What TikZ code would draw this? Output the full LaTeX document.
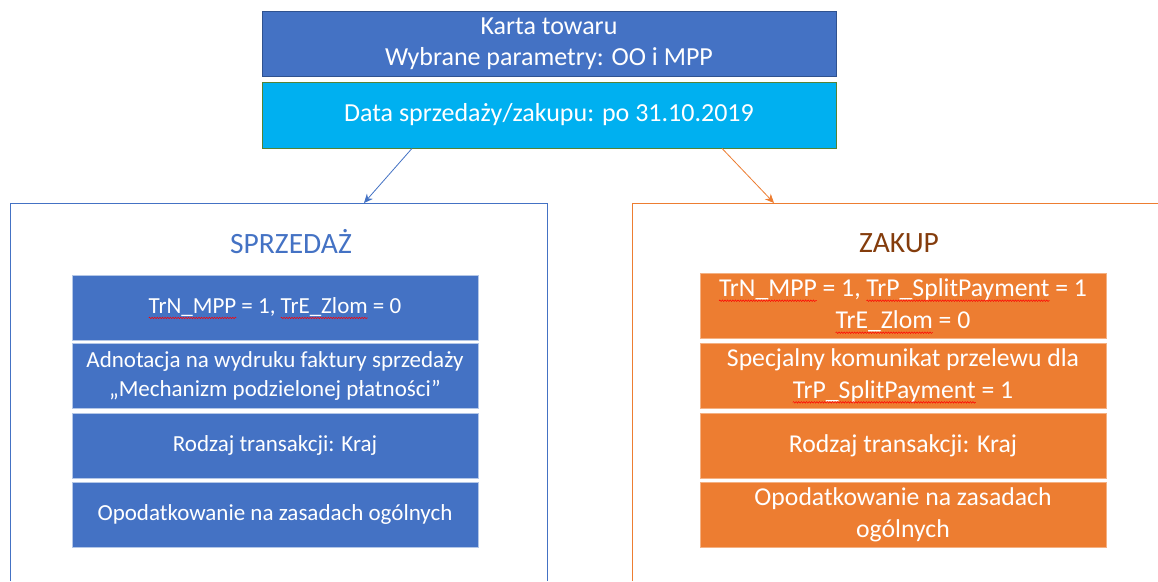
\documentclass[tikz,border=0pt]{standalone}
\usepackage{fontspec}
\setmainfont{Carlito}
\usetikzlibrary{arrows.meta,decorations.pathmorphing}
\definecolor{cblue}{HTML}{4472C4}
\definecolor{cblueD}{HTML}{2F528F}
\definecolor{ccyan}{HTML}{00B0F0}
\definecolor{cgreen}{HTML}{548235}
\definecolor{corange}{HTML}{ED7D31}
\definecolor{corangeL}{HTML}{F4B183}
\definecolor{cbrown}{HTML}{843C0C}
\newsavebox\wbox
\newlength\wlen
\newcommand{\redwave}[1]{\sbox\wbox{#1}\setlength\wlen{\wd\wbox}\usebox\wbox\tikz[overlay,x=1pt,y=1pt,baseline=0pt]\draw[red,line width=0.5pt,decorate,decoration={snake,amplitude=0.8pt,segment length=2.6pt}] (-\wlen,-4) -- (0,-4);}
\tikzset{
  txt/.style={font=\fontsize{23}{29}\selectfont, text=white, align=center, inner sep=0pt},
  toptxt/.style={font=\fontsize{26}{31}\selectfont},
  rtxt/.style={font=\fontsize{25.7}{32}\selectfont},
  topbox/.style={txt, toptxt, rectangle, minimum width=574pt, minimum height=65pt},
  bluebox/.style={txt, rectangle, fill=cblue, draw=cblue!40!white, line width=0.8pt, minimum width=406pt, minimum height=65pt},
  orangebox/.style={txt, rtxt, rectangle, fill=corange, draw=corangeL, line width=0.8pt, minimum width=406pt, minimum height=65pt},
  frameline/.style={line width=0.8pt},
  title/.style={font=\fontsize{29.5}{34}\selectfont, inner sep=0pt},
  arr/.style={line width=0.8pt, -{Stealth[length=9pt,width=8pt]}}
}
\begin{document}
\begin{tikzpicture}[x=1pt,y=-1pt]
\useasboundingbox[fill=white] (0,0) rectangle (1158,581);
% top boxes
\node[topbox, fill=cblue, draw=cblueD, line width=0.8pt] (t1) at (549,43.5) {Karta towaru\\Wybrane parametry: OO i MPP};
\node[topbox, fill=ccyan, draw=cgreen, line width=0.8pt, minimum height=66pt] (t2) at (549,115) {Data sprzedaży/zakupu: po 31.10.2019};
% frames
\draw[frameline, cblue] (10,581) -- (10,203) -- (547,203) -- (547,581);
\draw[frameline, corange] (632,581) -- (632,203) -- (1158,203);
% arrows
\coordinate (la1) at (t2.south -| 412,0);
\coordinate (la2) at (364,203);
\coordinate (ra1) at (t2.south -| 722,0);
\coordinate (ra2) at (774,203);
\draw[arr, cblue] (la1) -- (la2);
\draw[arr, corange] (ra1) -- (ra2);
% titles
\node[title, text=cblue] (st) at (291,242) {SPRZEDAŻ};
\node[title, text=cbrown] (zt) at (899,243) {ZAKUP};
% left boxes
\node[bluebox] (l1) at (275,307.5) {\redwave{TrN\_MPP} = 1, \redwave{TrE\_Zlom} = 0};
\node[bluebox] (l2) at (275,375.5) {Adnotacja na wydruku faktury sprzedaży\\„Mechanizm podzielonej płatności”};
\node[bluebox] (l3) at (275,445.5) {Rodzaj transakcji: Kraj};
\node[bluebox] (l4) at (275,514.5) {Opodatkowanie na zasadach ogólnych};
% right boxes
\node[orangebox] (r1) at (903,305.5) {\redwave{TrN\_MPP} = 1, \redwave{TrP\_SplitPayment} = 1\\\redwave{TrE\_Zlom} = 0};
\node[orangebox] (r2) at (903,375.5) {Specjalny komunikat przelewu dla\\\redwave{TrP\_SplitPayment} = 1};
\node[orangebox] (r3) at (903,445.5) {Rodzaj transakcji: Kraj};
\node[orangebox] (r4) at (903,514.5) {Opodatkowanie na zasadach\\ogólnych};
\end{tikzpicture}
\end{document}
